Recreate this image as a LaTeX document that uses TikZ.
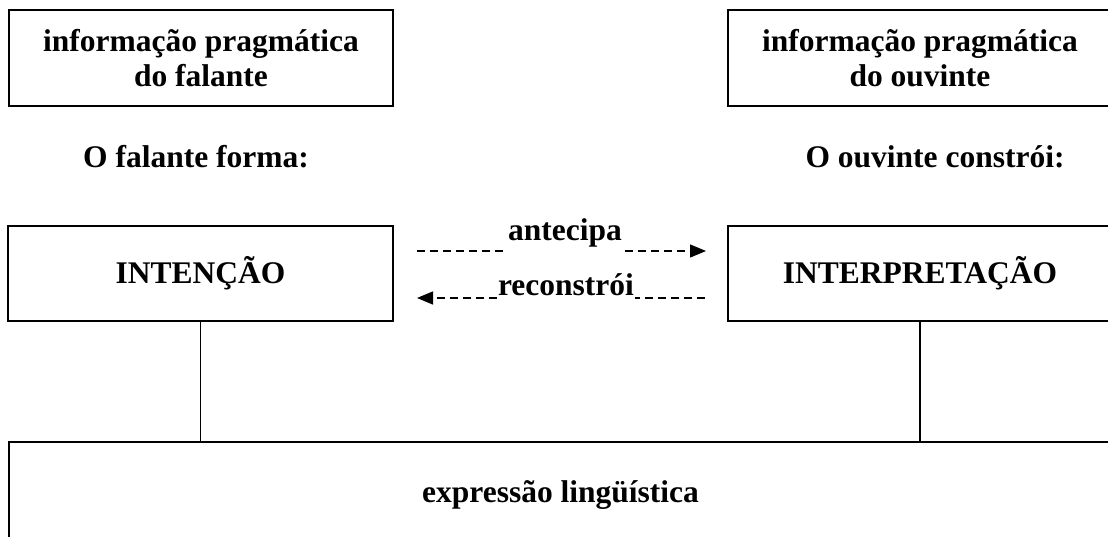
\documentclass[tikz,border=0pt]{standalone}
\usepackage{fontspec}
\setmainfont{Liberation Serif}
\usetikzlibrary{arrows.meta,calc}
\begin{document}
\begin{tikzpicture}[x=1pt,y=-1pt,
  box/.style={draw, line width=1.8pt, inner sep=0pt, font=\fontsize{31.5}{35}\selectfont\bfseries, align=center},
  lbl/.style={font=\fontsize{31.5}{35}\selectfont\bfseries, inner sep=0pt},
  conn/.style={line width=1.4pt},
  dasharrow/.style={line width=1.4pt, dash pattern=on 8pt off 5pt, -{Triangle[length=16pt,width=13pt]}},
]
\useasboundingbox (0,0) rectangle (1108,536);
\clip (0,0) rectangle (1108,536);
% top boxes
\node[box, minimum width=384pt, minimum height=96pt] (infoF) at (201,58) {informação pragmática\\do falante};
\node[box, minimum width=384pt, minimum height=96pt] (infoO) at (920,58) {informação pragmática\\do ouvinte};
% headings
\node[lbl, anchor=base] (hF) at (196,167) {O falante forma:};
\node[lbl, anchor=base] (hO) at (935,167) {O ouvinte constrói:};
% middle boxes
\node[box, minimum width=385pt, minimum height=95pt] (intent) at (200.5,273.5) {INTENÇÃO};
\node[box, minimum width=384pt, minimum height=95pt] (interp) at (920,273.5) {INTERPRETAÇÃO};
% bottom box
\node[box, minimum width=1103pt, minimum height=106pt] (expr) at (560.5,495) {expressão lingüística};
% connectors
\draw[conn] (intent.south) -- (intent.south |- expr.north);
\draw[conn] (interp.south) -- (interp.south |- expr.north);
% dashed arrows
\coordinate (a1) at (417,251);
\coordinate (a2) at (706,251);
\coordinate (b1) at (705,298);
\coordinate (b2) at (417,298);
\draw[dasharrow] (a1) -- (a2);
\draw[dasharrow] (b1) -- (b2);
\node[lbl, fill=white, inner xsep=1pt, inner ysep=7pt, anchor=base] (ant) at (565,240) {antecipa};
\node[lbl, fill=white, inner xsep=1pt, inner ysep=5pt, anchor=base] (rec) at (566,295) {reconstrói};
\end{tikzpicture}
\end{document}
